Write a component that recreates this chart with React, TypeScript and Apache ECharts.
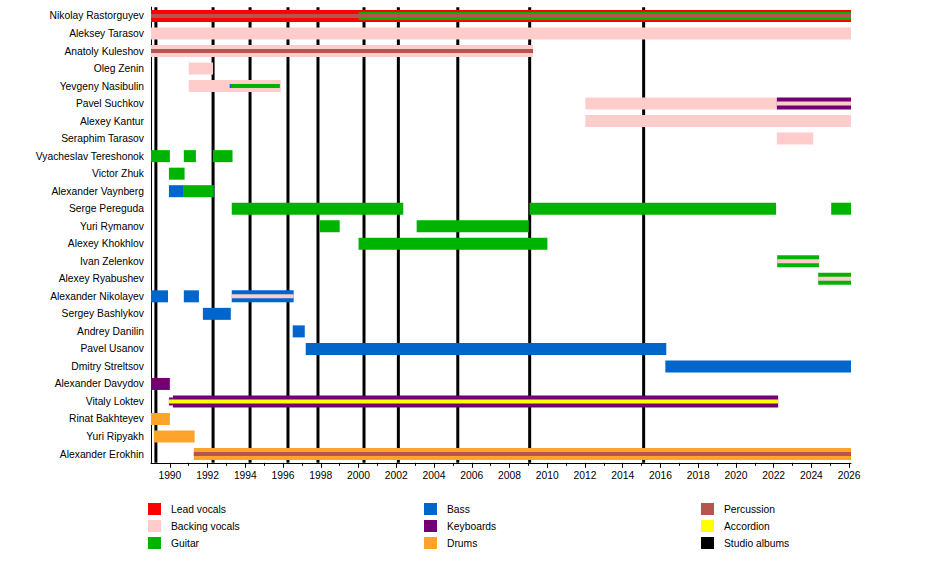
import React, { useEffect, useRef } from 'react';
import * as echarts from 'echarts';

const PRESENT = 2026.1;

const members = [
  'Nikolay Rastorguyev',
  'Aleksey Tarasov',
  'Anatoly Kuleshov',
  'Oleg Zenin',
  'Yevgeny Nasibulin',
  'Pavel Suchkov',
  'Alexey Kantur',
  'Seraphim Tarasov',
  'Vyacheslav Tereshonok',
  'Victor Zhuk',
  'Alexander Vaynberg',
  'Serge Pereguda',
  'Yuri Rymanov',
  'Alexey Khokhlov',
  'Ivan Zelenkov',
  'Alexey Ryabushev',
  'Alexander Nikolayev',
  'Sergey Bashlykov',
  'Andrey Danilin',
  'Pavel Usanov',
  'Dmitry Streltsov',
  'Alexander Davydov',
  'Vitaly Loktev',
  'Rinat Bakhteyev',
  'Yuri Ripyakh',
  'Alexander Erokhin',
];

// [member, start, end, role level: 1 = primary, 2 = secondary, 3 = tertiary]
type Stint = [string, number, number, number];

const leadVocals: Stint[] = [['Nikolay Rastorguyev', 1989, PRESENT, 1]];

const backingVocals: Stint[] = [
  ['Aleksey Tarasov', 1989, PRESENT, 1],
  ['Anatoly Kuleshov', 1989, 2009.25, 1],
  ['Oleg Zenin', 1991.0, 1992.29, 1],
  ['Yevgeny Nasibulin', 1991.0, 1995.88, 1],
  ['Pavel Suchkov', 2012.02, 2022.17, 1],
  ['Pavel Suchkov', 2022.17, PRESENT, 3],
  ['Alexey Kantur', 2012.02, PRESENT, 1],
  ['Seraphim Tarasov', 2022.17, 2024.1, 1],
  ['Ivan Zelenkov', 2022.19, 2024.41, 3],
  ['Alexey Ryabushev', 2024.36, PRESENT, 3],
  ['Alexander Nikolayev', 1993.28, 1996.56, 3],
];

const guitar: Stint[] = [
  ['Nikolay Rastorguyev', 2000.0, PRESENT, 2],
  ['Yevgeny Nasibulin', 1993.23, 1995.83, 3],
  ['Vyacheslav Tereshonok', 1989, 1990.0, 1],
  ['Vyacheslav Tereshonok', 1990.74, 1991.38, 1],
  ['Vyacheslav Tereshonok', 1992.28, 1993.32, 1],
  ['Victor Zhuk', 1989.95, 1990.78, 1],
  ['Alexander Vaynberg', 1990.74, 1992.33, 1],
  ['Serge Pereguda', 1993.28, 2002.37, 1],
  ['Serge Pereguda', 2009.06, 2022.13, 1],
  ['Serge Pereguda', 2025.05, PRESENT, 1],
  ['Yuri Rymanov', 1997.94, 1999.0, 1],
  ['Yuri Rymanov', 2003.08, 2009.02, 1],
  ['Alexey Khokhlov', 2000.0, 2010.01, 1],
  ['Ivan Zelenkov', 2022.19, 2024.41, 1],
  ['Alexey Ryabushev', 2024.36, PRESENT, 1],
];

const bass: Stint[] = [
  ['Yevgeny Nasibulin', 1993.17, 1993.26, 3],
  ['Alexander Vaynberg', 1989.95, 1990.74, 1],
  ['Alexander Nikolayev', 1989, 1989.9, 1],
  ['Alexander Nikolayev', 1990.74, 1991.54, 1],
  ['Alexander Nikolayev', 1993.28, 1996.56, 1],
  ['Sergey Bashlykov', 1991.75, 1993.23, 1],
  ['Andrey Danilin', 1996.51, 1997.15, 1],
  ['Pavel Usanov', 1997.2, 2016.31, 1],
  ['Dmitry Streltsov', 2016.26, PRESENT, 1],
];

const keyboards: Stint[] = [
  ['Pavel Suchkov', 2022.17, PRESENT, 1],
  ['Alexander Davydov', 1989, 1990.0, 1],
  ['Vitaly Loktev', 1989.95, 1990.16, 2],
  ['Vitaly Loktev', 1990.16, 2022.24, 1],
];

const drums: Stint[] = [
  ['Rinat Bakhteyev', 1989, 1990.0, 1],
  ['Yuri Ripyakh', 1989.15, 1991.31, 1],
  ['Alexander Erokhin', 1991.27, PRESENT, 1],
];

const percussion: Stint[] = [
  ['Nikolay Rastorguyev', 1989, PRESENT, 3],
  ['Anatoly Kuleshov', 1989, 2009.25, 3],
  ['Alexander Erokhin', 1991.27, PRESENT, 3],
];

const accordion: Stint[] = [['Vitaly Loktev', 1989.95, 2022.24, 3]];

const studioAlbums = [1989.26, 1992.29, 1994.25, 1996.26, 1997.85, 2000.29, 2002.11, 2005.26, 2009.07, 2015.11];

const majorTicks = [1990, 1992, 1994, 1996, 1998, 2000, 2002, 2004, 2006, 2008, 2010, 2012, 2014, 2016, 2018, 2020, 2022, 2024, 2026];
const minorTicks = [1991, 1993, 1995, 1997, 1999, 2001, 2003, 2005, 2007, 2009, 2011, 2013, 2015, 2017, 2019, 2021, 2023, 2025];

const roles: { name: string; color: string; stints: Stint[] }[] = [
  { name: 'Lead vocals', color: '#FF0000', stints: leadVocals },
  { name: 'Backing vocals', color: '#FFCCCC', stints: backingVocals },
  { name: 'Guitar', color: '#00B300', stints: guitar },
  { name: 'Bass', color: '#0066CC', stints: bass },
  { name: 'Keyboards', color: '#730073', stints: keyboards },
  { name: 'Drums', color: '#FFA42B', stints: drums },
  { name: 'Percussion', color: '#B85450', stints: percussion },
  { name: 'Accordion', color: '#FFFF00', stints: accordion },
];

const FONT = '"Liberation Sans", Arial, Helvetica, sans-serif';
const FONT_SIZE = 10.3;
const levelFraction: Record<number, number> = { 1: 0.685, 2: 0.457, 3: 0.228 };

export default function App() {
  const ref = useRef<HTMLDivElement>(null);

  useEffect(() => {
    if (!ref.current) return;
    const chart = echarts.init(ref.current, null, { renderer: 'svg' });

    const roleSeries = roles.map((r) => ({
      type: 'custom',
      name: r.name,
      z: 2,
      itemStyle: { color: r.color },
      encode: { x: [1, 2], y: 0 },
      data: r.stints.map(([m, s, e, l]) => [members.indexOf(m), s, e, l]),
      renderItem: (params: any, api: any) => {
        const row = api.value(0);
        const p0 = api.coord([api.value(1), row]);
        const p1 = api.coord([api.value(2), row]);
        const band = api.size([0, 1])[1];
        const lvl = api.value(3);
        const h = band * levelFraction[lvl];
        return {
          type: 'rect',
          z2: lvl,
          shape: { x: p0[0], y: p0[1] - h / 2, width: p1[0] - p0[0], height: h },
          style: { fill: r.color },
        };
      },
    }));

    const albumSeries = {
      type: 'custom',
      name: 'Studio albums',
      z: 1,
      itemStyle: { color: '#000000' },
      encode: { x: 0, y: 1 },
      data: studioAlbums.map((y) => [y, 0]),
      renderItem: (params: any, api: any) => {
        const x = api.coord([api.value(0), 0])[0];
        const cs = params.coordSys;
        return {
          type: 'rect',
          shape: { x: x - 1.5, y: cs.y, width: 3, height: cs.height },
          style: { fill: '#000000' },
        };
      },
    };

    const legendBase = {
      orient: 'vertical',
      top: 503,
      itemWidth: 13,
      itemHeight: 12,
      itemGap: 5,
      padding: 0,
      icon: 'rect',
      selectedMode: false,
      textStyle: { fontFamily: FONT, fontSize: FONT_SIZE, color: '#000', padding: [2, 0, 0, 5] },
    };

    chart.setOption({
      animation: false,
      backgroundColor: '#ffffff',
      textStyle: { fontFamily: FONT },
      grid: { left: 151, right: 99, top: 7.2, bottom: 107.2, containLabel: false },
      xAxis: [
        {
          type: 'value',
          min: 1989,
          max: PRESENT,
          position: 'bottom',
          axisLine: { show: true, lineStyle: { color: '#000', width: 1 } },
          axisTick: { show: true, customValues: majorTicks, length: 5, lineStyle: { color: '#000', width: 1 } },
          axisLabel: {
            customValues: majorTicks,
            formatter: (v: number) => String(Math.round(v)),
            fontFamily: FONT,
            fontSize: FONT_SIZE,
            color: '#000',
            margin: 8,
          },
          splitLine: { show: false },
        },
        {
          type: 'value',
          min: 1989,
          max: PRESENT,
          position: 'bottom',
          axisLine: { show: false },
          axisTick: { show: true, customValues: minorTicks, length: 3, lineStyle: { color: '#000', width: 1 } },
          axisLabel: { show: false },
          splitLine: { show: false },
        },
      ],
      yAxis: {
        type: 'category',
        data: members,
        inverse: true,
        axisLine: { show: true, lineStyle: { color: '#000', width: 1 } },
        axisTick: { show: false },
        axisLabel: { fontFamily: FONT, fontSize: FONT_SIZE, color: '#000', margin: 7 },
        splitLine: { show: false },
      },
      legend: [
        { ...legendBase, left: 148, data: ['Lead vocals', 'Backing vocals', 'Guitar'] },
        { ...legendBase, left: 424, data: ['Bass', 'Keyboards', 'Drums'] },
        { ...legendBase, left: 701, data: ['Percussion', 'Accordion', 'Studio albums'] },
      ],
      series: [...roleSeries, albumSeries],
    });

    return () => chart.dispose();
  }, []);

  return (
    <div
      ref={ref}
      style={{ position: 'absolute', left: 0, top: 0, width: 950, height: 570, background: '#fff' }}
    />
  );
}
